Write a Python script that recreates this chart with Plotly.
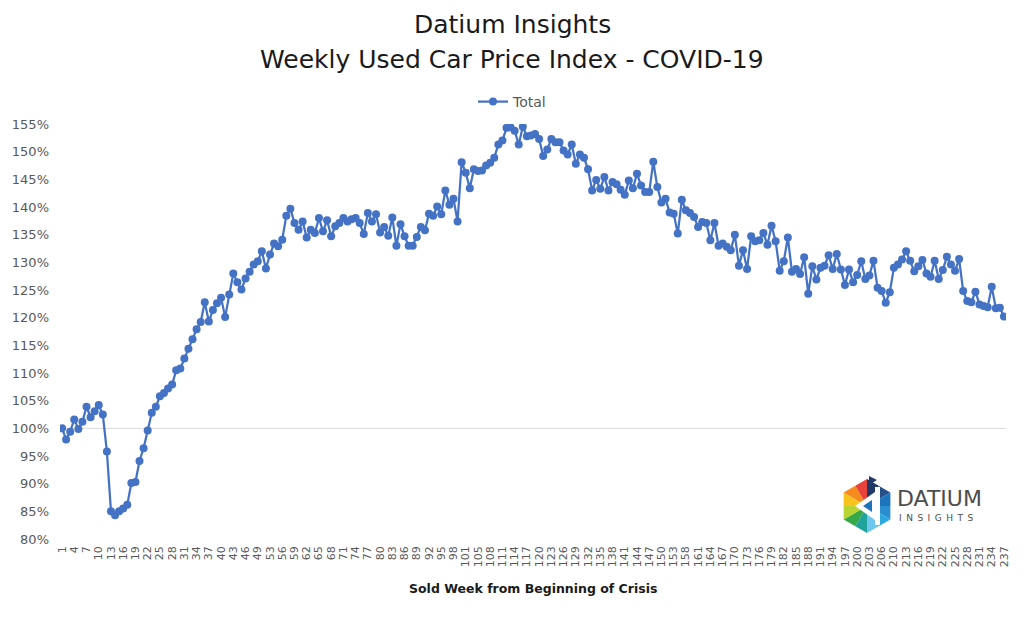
import math
import plotly.graph_objects as go

# ---------------- data ----------------
# Sold week numbers (category axis; a few weeks are absent from the source)
sold_weeks = (list(range(1, 51)) + list(range(52, 103)) + list(range(104, 155))
              + list(range(157, 208)) + list(range(209, 238)))
index_pct = [
    100.0, 98.0, 99.4, 101.6, 99.9, 101.2, 103.9, 102.0, 103.1, 104.2,
    102.5, 95.8, 85.0, 84.3, 85.0, 85.5, 86.2, 90.1, 90.3, 94.1,
    96.4, 99.6, 102.8, 103.9, 105.8, 106.4, 107.2, 107.9, 110.5,
    110.8, 112.6, 114.4, 116.1, 117.9, 119.2, 122.8, 119.3, 121.4, 122.6,
    123.6, 120.1, 124.2, 128.0, 126.4, 125.1, 127.1, 128.3, 129.6, 130.2,
    132.0, 128.9, 131.4, 133.4, 132.9, 134.1,
    138.4, 139.7, 137.1, 135.9, 137.4, 134.5, 135.9, 135.3, 138.0, 135.6,
    137.6, 134.7, 136.5, 137.1, 138.0, 137.4, 137.8, 138.0, 137.1, 135.1,
    138.9, 137.4, 138.7, 135.4, 136.4, 134.8, 138.1, 133.0,
    136.9, 134.7, 133.0, 133.0, 134.6, 136.4, 135.8, 138.8, 138.4, 140.1,
    138.7, 143.0, 140.4, 141.5, 137.4, 148.1, 146.2, 143.4, 146.8, 146.5,
    146.6, 147.5, 148.0, 148.9, 151.3, 152.0, 154.3, 154.4,
    153.8, 151.3, 154.5, 152.8, 152.9, 153.2, 152.3, 149.2, 150.4, 152.3,
    151.7, 151.7, 150.2, 149.5, 151.3, 147.8, 149.5, 148.9, 146.8, 143.0,
    144.9, 143.3, 145.4, 143.0, 144.5, 144.1, 143.1, 142.2, 144.8,
    143.4, 146.0, 143.9, 142.7, 142.7, 148.2, 143.6, 140.8, 141.5, 139.0,
    138.8, 135.2, 141.3, 139.4, 138.9, 138.2, 136.4, 137.3, 137.1, 134.0,
    137.1, 133.0, 133.4, 132.8, 132.2, 135.0, 129.4, 132.2, 128.8, 134.7,
    133.8, 134.0, 135.3, 133.2, 136.6, 133.8, 128.5, 130.2, 134.5, 128.3,
    128.8, 127.9, 130.9, 124.3, 129.3, 126.9, 129.0, 129.4, 131.3, 128.8,
    131.5, 128.7, 125.9, 128.7, 126.4, 127.7, 130.2, 127.0,
    127.6, 130.3, 125.4, 124.8, 122.7, 124.6, 129.0, 129.6, 130.5, 132.0,
    130.3, 128.4, 129.3, 130.4, 128.0, 127.4, 130.3, 127.0, 128.6, 131.0,
    129.6, 128.5, 130.6, 124.8, 123.0, 122.8, 124.7, 122.4, 122.1, 121.9,
    125.6, 121.7, 121.8, 120.2,
]
series_name = "Total"
week_labels = [str(w) for w in sold_weeks]
x_tick_vals = week_labels[::3]
y_tick_vals = list(range(80, 156, 5))
y_tick_text = ["{}%".format(v) for v in y_tick_vals]

FONT = "DejaVu Sans"
W, H = 1024, 617
L, R, T, B = 60, 18, 124, 78
PW, PH = W - L - R, H - T - B


def px(x):
    return (x - L) / PW


def py(y):
    return (H - B - y) / PH


fig = go.Figure()
fig.add_trace(go.Scatter(
    x=week_labels, y=index_pct, name=series_name, mode="lines+markers",
    line=dict(color="#4472C4", width=2.25),
    marker=dict(size=8, color="#4472C4"),
))

shapes = [dict(type="line", xref="paper", yref="y", x0=0, x1=1, y0=100, y1=100,
               line=dict(color="#D9D9D9", width=1), layer="below")]

# ---- logo (hexagon of coloured triangles) ----
cx, cy, r = 867, 506, 27
verts = []
for ang in [90, 30, -30, -90, -150, 150]:
    a = math.radians(ang)
    verts.append((cx + r * math.cos(a), cy - r * math.sin(a)))
pairs = [("#1F3A68", "#27508A"), ("#1C75BC", "#2A8FD0"), ("#29A9E0", "#6CC7EE"),
         ("#1FA39A", "#35A847"), ("#B8D433", "#F9C31F"), ("#F58A1F", "#E8433B")]


def poly(points, col):
    p = "M " + " L ".join("{} {}".format(px(a), py(b)) for a, b in points) + " Z"
    return dict(type="path", xref="paper", yref="paper", path=p, fillcolor=col,
                line=dict(width=0))


for i in range(6):
    v1 = verts[i]
    v2 = verts[(i + 1) % 6]
    m = ((v1[0] + v2[0]) / 2, (v1[1] + v2[1]) / 2)
    for (a, b), col in zip([(v1, m), (m, v2)], pairs[i]):
        shapes.append(poly([(cx, cy), a, b], col))

shapes.append(poly([(855, 506), (875, 492), (875, 520)], "white"))
shapes.append(poly([(875, 487), (880, 487), (880, 525), (875, 525)], "white"))
shapes.append(poly([(863, 506), (872, 500), (872, 512)], "#1C75BC"))
shapes.append(poly([(869, 476), (877, 480), (869, 485)], "#1F3A68"))

EN = "\u2002"
annotations = [
    dict(text="Datium Insights", x=px(512), xref="paper", xanchor="center",
         y=py(25), yref="paper", yanchor="middle", showarrow=False,
         font=dict(family=FONT, size=25, color="#1A1A1A")),
    dict(text="Weekly Used Car Price Index - COVID-19", x=px(512), xref="paper",
         xanchor="center", y=py(60), yref="paper", yanchor="middle", showarrow=False,
         font=dict(family=FONT, size=25, color="#1A1A1A")),
    dict(text="<b>Sold Week from Beginning of Crisis</b>", x=px(533), xref="paper",
         xanchor="center", y=py(588), yref="paper", yanchor="middle", showarrow=False,
         font=dict(family=FONT, size=12.5, color="#1A1A1A")),
    dict(text="DATIUM", x=px(895), xref="paper", xanchor="left", y=py(498), yref="paper",
         yanchor="middle", showarrow=False, font=dict(family=FONT, size=22, color="#4D4D4D")),
    dict(text=EN.join("INSIGHTS"), x=px(897), xref="paper", xanchor="left", y=py(518),
         yref="paper", yanchor="middle", showarrow=False,
         font=dict(family=FONT, size=9, color="#4D4D4D")),
]

fig.update_layout(
    width=W, height=H, autosize=False,
    margin=dict(l=L, r=R, t=T, b=B, pad=0),
    paper_bgcolor="white", plot_bgcolor="white",
    font=dict(family=FONT, color="#595959"),
    showlegend=True,
    legend=dict(orientation="h", x=px(473), y=py(86), xanchor="left", yanchor="top",
                font=dict(family=FONT, size=14, color="#595959"),
                bgcolor="rgba(0,0,0,0)", itemwidth=30),
    xaxis=dict(type="category", range=[-0.5, len(week_labels) - 0.5],
               tickmode="array", tickvals=x_tick_vals, ticktext=x_tick_vals,
               tickangle=-90, showgrid=False, zeroline=False, showline=False,
               ticks="", ticklabelstandoff=4,
               tickfont=dict(family=FONT, size=11, color="#595959")),
    yaxis=dict(range=[80, 155], tickmode="array", tickvals=y_tick_vals,
               ticktext=y_tick_text, showgrid=False, zeroline=False, showline=False,
               ticks="", ticklabelstandoff=10,
               tickfont=dict(family=FONT, size=13, color="#595959")),
    shapes=shapes, annotations=annotations,
)

fig.write_html("out.html")
